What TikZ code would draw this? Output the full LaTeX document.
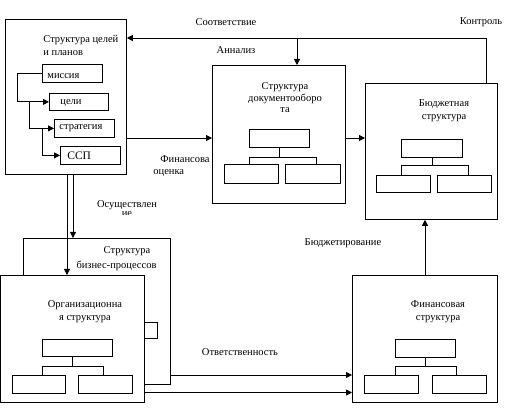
\documentclass[tikz,border=0pt]{standalone}
\usepackage{fontspec}
\setmainfont{Liberation Serif}
\usetikzlibrary{arrows.meta,calc}
\begin{document}
\begin{tikzpicture}[x=1pt,y=-1pt,
  line width=0.8pt,
  box/.style={draw,fill=white,anchor=north west,inner sep=0pt,minimum width=#1},
  box/.default=10pt,
  arr/.style={-{Triangle[length=6pt,width=6pt]}},
  lbl/.style={inner sep=0pt,font=\fontsize{10.5}{13}\selectfont,align=center},
  lbll/.style={lbl,anchor=west,align=left}]
\useasboundingbox (0,0) rectangle (509,411);
% ---------- Box A: Структура целей и планов
\node[box=121pt,minimum height=155pt] (A) at (5,19) {};
\node[lbll] (At1) at (43,40) {Структура целей};
\node[lbll] (At2) at (43,53) {и планов};
\node[box=60pt,minimum height=18pt] (mis) at (42,64) {};
\node[lbll] at (47,76) {миссия};
\node[box=59pt,minimum height=17pt] (cel) at (49,93) {};
\node[lbll] at (60,103) {цели};
\node[box=60pt,minimum height=18pt] (str) at (54,119) {};
\node[lbll] at (59,128.5) {стратегия};
\node[box=60pt,minimum height=18pt] (ssp) at (60,146) {};
\node[lbll,font=\fontsize{11.5}{13}\selectfont] at (67,155.5) {ССП};
\coordinate (j0) at (17,0);
\coordinate (j1) at (29,0);
\coordinate (j2) at (42,0);
\draw[arr] (mis.west) -- (mis.west -| j0) |- (cel.west);
\draw[arr] (cel.west -| j1) |- (str.west);
\draw[arr] (str.west -| j2) |- (ssp.west);
% ---------- Box B: документооборот
\node[box=133pt,minimum height=138pt] (B) at (212,65) {};
\node[lbl,font=\fontsize{10.5}{11.5}\selectfont] at (285,98) {Структура\\документооборо\\та};
\node[box=60pt,minimum height=18pt] (B0) at (249,129) {};
\node[box=54pt,minimum height=19pt] (B1) at (224,164) {};
\node[box=55pt,minimum height=19pt] (B2) at (285,164) {};
\coordinate (Bh) at (0,157);
\draw (B0.south) -- (B0.south |- Bh);
\draw (249,157) -- (316,157);
\draw (249,157) -- (249,164);
\draw (316,157) -- (316,164);
% ---------- Box C: Бюджетная структура
\node[box=132pt,minimum height=136pt] (C) at (365,83) {};
\node[lbl] at (444,110.5) {Бюджетная\\структура};
\node[box=61pt,minimum height=18pt] (C0) at (401,139) {};
\node[box=54pt,minimum height=17pt] (C1) at (376,175) {};
\node[box=54pt,minimum height=17pt] (C2) at (437,175) {};
\draw (C0.south) -- ++(0,8);
\draw (401,165) -- (468,165);
\draw (401,165) -- (401,175);
\draw (468,165) -- (468,175);
% ---------- Box D: бизнес-процессов (behind E)
\node[box=147pt,minimum height=146pt] (D) at (23,238) {};
\node[lbl] at (127,251) {Структура};
\node[lbl] at (116.5,266) {бизнес-процессов};
\node[box=27pt,minimum height=16pt] (Ds) at (130,322) {};
% ---------- arrows from A down
\coordinate (d1) at (73,0);
\coordinate (d2) at (67,0);
\draw[arr] (A.south -| d1) -- (D.north -| d1);
\coordinate (Etop) at (0,275);
\draw[arr] (A.south -| d2) -- (Etop -| d2);
% ---------- Box E: Организационная структура
\node[box=144pt,minimum height=127pt] (E) at (0,275) {};
\node[lbl] at (85,311.5) {Организационна\\я структура};
\node[box=70pt,minimum height=17pt] (E0) at (42,339) {};
\node[box=53pt,minimum height=18pt] (E1) at (12,375) {};
\node[box=54pt,minimum height=18pt] (E2) at (78,375) {};
\draw (E0.south -| 72,0) -- (72,366);
\draw (42,366) -- (103,366);
\draw (42,366) -- (42,375);
\draw (103,366) -- (103,375);
% ---------- Box F: Финансовая структура
\node[box=145pt,minimum height=127pt] (F) at (352,275) {};
\node[lbl] at (438,312) {Финансовая\\структура};
\node[box=60pt,minimum height=18pt] (F0) at (395,339) {};
\node[box=54pt,minimum height=18pt] (F1) at (364,375) {};
\node[box=54pt,minimum height=18pt] (F2) at (432,375) {};
\draw (F0.south -| 425,0) -- (425,366);
\draw (395,366) -- (456,366);
\draw (395,366) -- (395,375);
\draw (456,366) -- (456,375);
% ---------- connectors
\coordinate (ctl) at (486,38);
\draw[arr] (C.north -| ctl) -- (ctl) -- (ctl -| A.east);
\coordinate (an) at (297,38);
\draw[arr] (an) -- (an |- B.north);
\coordinate (fo) at (0,138);
\draw[arr] (A.east |- fo) -- (B.west |- fo);
\draw[arr] (B.east |- fo) -- (C.west |- fo);
\coordinate (bu) at (425,0);
\draw[arr] (F.north -| bu) -- (C.south -| bu);
\coordinate (o1) at (0,375);
\coordinate (o2) at (0,392.5);
\draw[arr] (D.east |- o1) -- (F.west |- o1);
\draw[arr] (E.east |- o2) -- (F.west |- o2);
% ---------- labels
\node[lbl] at (226,22) {Соответствие};
\node[lbl] at (481,22) {Контроль};
\node[lbl] at (236,50) {Аннализ};
\node[lbll] at (160,159) {Финансова};
\node[lbll] at (153,173) {оценка};
\node[lbl] at (127,205) {Осуществлен};
\begin{scope}
\clip (100,210) rectangle (160,214.5);
\node[lbl] at (127,214) {ие};
\end{scope}
\node[lbl] at (343,243) {Бюджетирование};
\node[lbl] at (240,352) {Ответственность};
\end{tikzpicture}
\end{document}
